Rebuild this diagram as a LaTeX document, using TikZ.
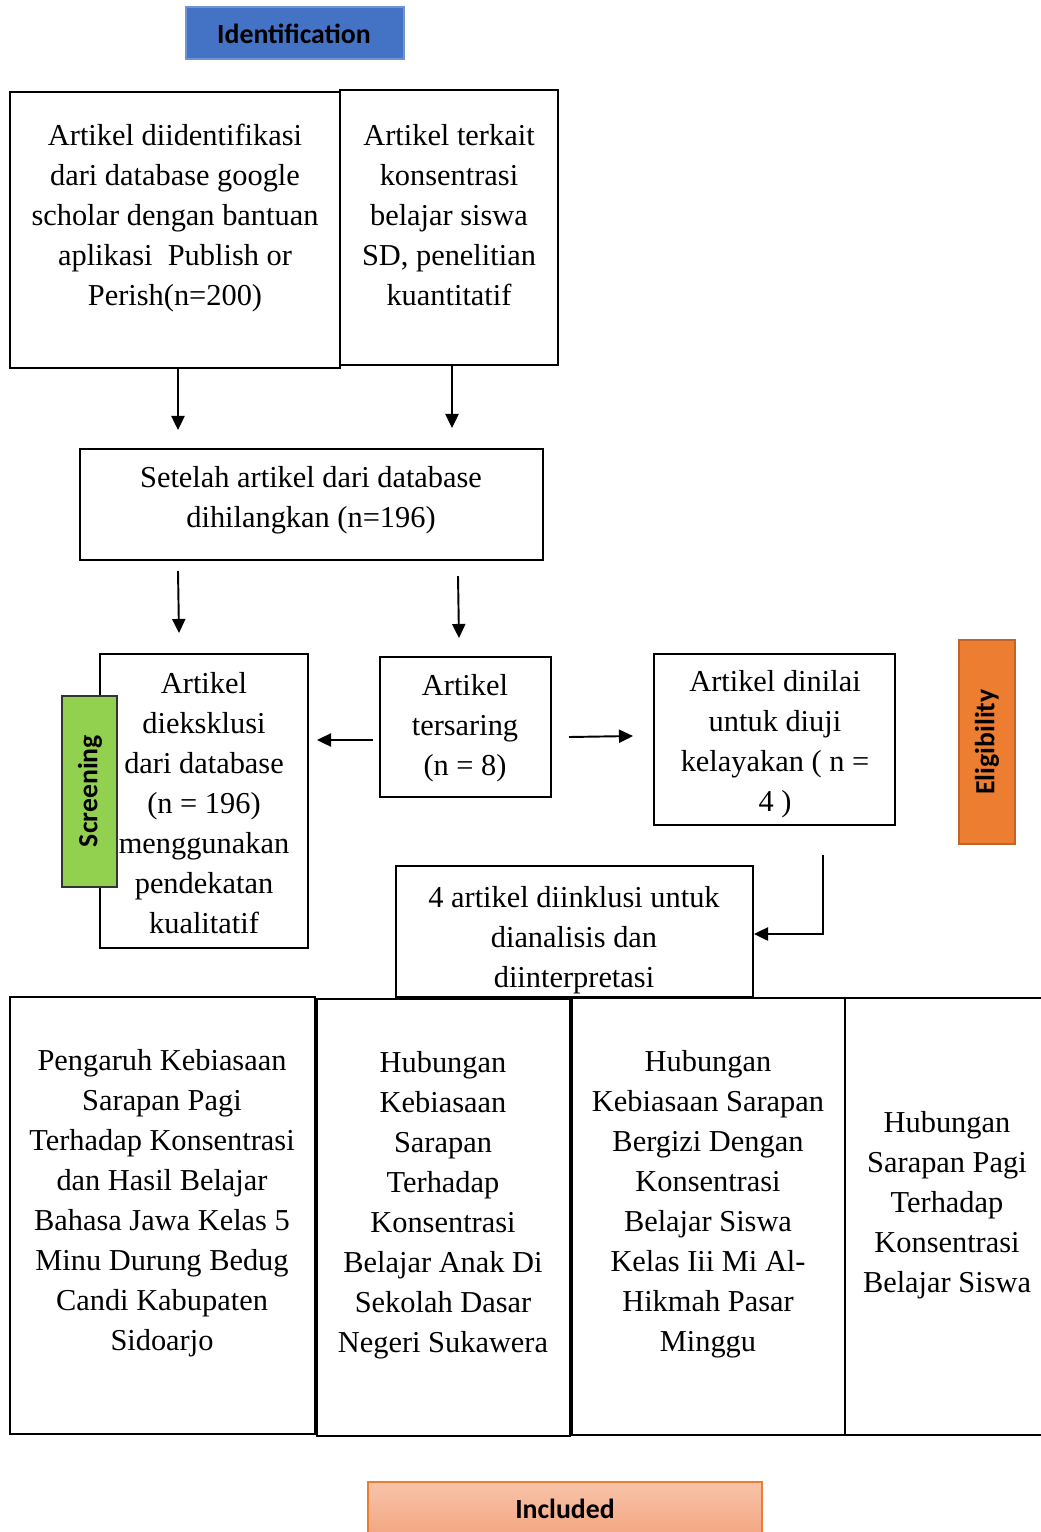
\documentclass[tikz,border=0pt]{standalone}
\usepackage{fontspec}
\setmainfont{Liberation Serif}
\newfontfamily\calib{Carlito}
\usetikzlibrary{fit,arrows.meta,shadings}
\definecolor{idblue}{HTML}{4472C4}
\definecolor{idborder}{HTML}{6F93D3}
\definecolor{scrgreen}{HTML}{92D050}
\definecolor{eliorange}{HTML}{ED7D31}
\definecolor{eliborder}{HTML}{C0642B}
\definecolor{inctop}{HTML}{F8C3A9}
\definecolor{incbot}{HTML}{F3A47F}
\tikzset{
  frame/.style={draw=black, line width=1.1pt, inner sep=0pt},
  txt/.style={align=center, font=\fontsize{17.3}{22.8}\selectfont, inner sep=0pt},
  lab/.style={font=\calib\bfseries\fontsize{15.8}{18}\selectfont, inner sep=0pt},
  arr/.style={line width=1.1pt, -{Triangle[length=8pt,width=7.5pt]}},
}
\begin{document}
\begin{tikzpicture}[x=0.02cm,y=-0.02cm]
\useasboundingbox (0,0) rectangle (1041,1532);
% header labels
\node[fit={(186,7) (404,59)}, fill=idblue, draw=idborder, line width=0.6pt, inner sep=0pt] (idbox) {};
\node[lab] (idtxt) at (294,34) {Identification};
% top boxes
\node[frame, fit={(10,92) (340,368)}] (A) {};
\node[frame, fit={(340,90) (558,365)}] (B) {};
\node[txt] (At) at (175,218) {Artikel diidentifikasi\\dari database google\\scholar dengan bantuan\\aplikasi\ \ Publish or\\Perish(n=200)};
\node[txt] (Bt) at (449,215) {Artikel terkait\\konsentrasi\\belajar siswa\\SD, penelitian\\kuantitatif};
% second level
\node[frame, fit={(80,449) (543,560)}] (C) {};
\node[txt] (Ct) at (311,500) {Setelah artikel dari database\\dihilangkan (n=196)};
\coordinate (a1) at (178,430);
\coordinate (a2) at (452,428);
\draw[arr] (A.south -| a1) -- (a1);
\draw[arr] (B.south -| a2) -- (a2);
% third level
\node[frame, fit={(100,654) (308,948)}] (D) {};
\node[fit={(62,696) (117,887)}, fill=scrgreen, draw=black!80, line width=0.6pt, inner sep=0pt] (scr) {};
\node[lab, rotate=90] (scrt) at (90,791) {Screening};
\node[txt] (Dt) at (204,803) {Artikel\\dieksklusi\\dari database\\(n = 196)\\menggunakan\\pendekatan\\kualitatif};
\node[frame, fit={(380,657) (551,797)}] (E) {};
\node[txt] (Et) at (465,728) {Artikel\\tersaring\\(n = 8)};
\node[frame, fit={(654,654) (895,825)}] (F) {};
\node[txt] (Ft) at (775,744) {Artikel dinilai\\untuk diuji\\kelayakan ( n =\\4 )};
\node[fit={(959,640) (1015,844)}, fill=eliorange, draw=eliborder, line width=1pt, inner sep=0pt] (eli) {};
\node[lab, rotate=90] (elit) at (987,742) {Eligibility};
\coordinate (c1s) at (178,571);
\coordinate (c1e) at (179,633);
\coordinate (c2s) at (458,576);
\coordinate (c2e) at (459,638);
\draw[arr] (c1s) -- (c1e);
\draw[arr] (c2s) -- (c2e);
\coordinate (e1s) at (373,740);
\coordinate (e1e) at (317,740);
\coordinate (e2s) at (569,737);
\coordinate (e2e) at (633,736);
\draw[arr] (e1s) -- (e1e);
\draw[arr] (e2s) -- (e2e);
% included box
\node[frame, fit={(396,866) (753,997)}] (G) {};
\node[txt] (Gt) at (574,940) {4 artikel diinklusi untuk\\dianalisis dan\\diinterpretasi};
\coordinate (gs) at (823,855);
\draw[arr] (gs) -- (gs |- 0,934) -- (G.east |- 0,934);
% bottom boxes
\node[frame, fit={(10,997) (315,1434)}] (H1) {};
\node[frame, line width=1.5pt, fit={(317,999) (570,1436)}] (H2) {};
\node[frame, fit={(572,998) (845,1435)}] (H3) {};
\node[frame, fit={(845,998) (1050,1435)}] (H4) {};
\node[txt] (H1t) at (162,1203) {Pengaruh Kebiasaan\\Sarapan Pagi\\Terhadap Konsentrasi\\dan Hasil Belajar\\Bahasa Jawa Kelas 5\\Minu Durung Bedug\\Candi Kabupaten\\Sidoarjo};
\node[txt] (H2t) at (443,1205) {Hubungan\\Kebiasaan\\Sarapan\\Terhadap\\Konsentrasi\\Belajar Anak Di\\Sekolah Dasar\\Negeri Sukawera};
\node[txt] (H3t) at (708,1204) {Hubungan\\Kebiasaan Sarapan\\Bergizi Dengan\\Konsentrasi\\Belajar Siswa\\Kelas Iii Mi Al-\\Hikmah Pasar\\Minggu};
\node[txt] (H4t) at (947,1205) {Hubungan\\Sarapan Pagi\\Terhadap\\Konsentrasi\\Belajar Siswa};
% included label
\node[fit={(368,1482) (762,1540)}, top color=inctop, bottom color=incbot, draw=eliorange, line width=0.8pt, inner sep=0pt] (incbox) {};
\node[lab] (inct) at (565,1509) {Included};
\end{tikzpicture}
\end{document}
